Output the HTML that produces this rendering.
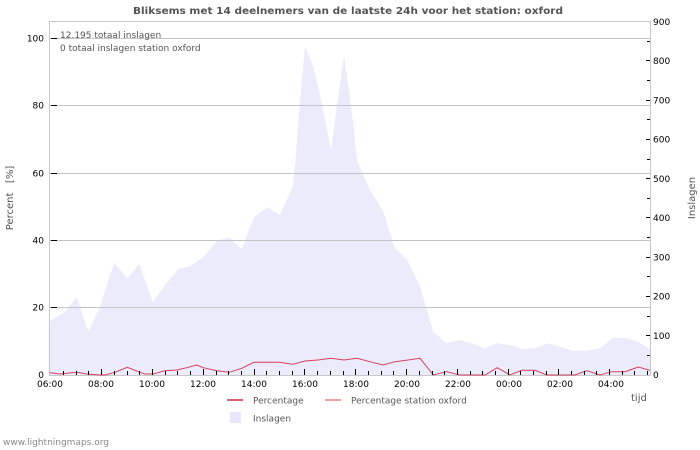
<!DOCTYPE html>
<html><head><meta charset="utf-8"><style>
html,body{margin:0;padding:0;background:#fff;}
svg{display:block;}
text{font-family:"DejaVu Sans","Liberation Sans",sans-serif;}
</style></head><body>
<svg width="700" height="450" viewBox="0 0 700 450" xmlns="http://www.w3.org/2000/svg">
<rect x="0" y="0" width="700" height="450" fill="#fff"/>
<!-- area -->
<polygon fill="#ebebfc" points="50,321 63.3,313.3 76.7,297.3 88.3,331.7 100,306.7 114,262.7 127.3,278.3 139.3,264 152.7,302.3 165,285 178.3,269.3 190,266 203.3,257.3 216.7,240.7 229.3,237.3 241.7,249.3 254,217.3 267.3,207.3 280,215 292.7,186.7 295,166.7 300,100 305,46.7 313.3,66.7 321.7,103.3 331,150 336.7,106.7 344,56 350,96.7 357.3,161.7 370,190 383.3,211.7 395,248.3 407.3,260 420,286.7 433.3,331.7 446.7,343.3 460,340 471.7,343.3 485,348.3 496.7,343.3 510,345 521.7,349 535,348.3 548.3,343.3 560,346.7 573.3,350.7 586.7,350.7 600,348.3 613.3,337.7 626.7,338.3 638.3,341.7 650,349.3 650,375 50,375"/>
<!-- grid -->
<g stroke="#c4c4c8" stroke-width="1">
<line x1="50" y1="38.5" x2="650" y2="38.5"/>
<line x1="50" y1="105.5" x2="650" y2="105.5"/>
<line x1="50" y1="173.5" x2="650" y2="173.5"/>
<line x1="50" y1="240.5" x2="650" y2="240.5"/>
<line x1="50" y1="307.5" x2="650" y2="307.5"/>
</g>
<!-- border -->
<rect x="49.5" y="21.5" width="601" height="354" fill="none" stroke="#c8c8c8" stroke-width="1"/>
<!-- percentage line -->
<polyline fill="none" stroke="#d9405a" stroke-width="1" points="50,372.7 60,374 66.7,373.3 76.7,372.3 86.7,374 100,375 105,375 115,372.3 127.3,367.3 140,372.3 145,374 153.3,374 165,370.7 176.7,370 186.7,367.7 196.7,365 203.3,367.7 216.7,370.7 229.3,372.3 241.7,368.3 254,362.3 267.3,362.3 279.3,362.3 292.7,364.3 305,361 318,360 331,358.3 344,360 357,358.3 370,361.7 383,365 395,361.7 408,360 420,358.3 433.3,375 446.7,371.7 456.7,374.3 460,375 485,375 497.3,367.7 510,375 521.7,370.3 535,370.3 546.7,375 575,375 586.7,370.7 600,375 611.7,371.7 625,371.7 638.3,367 650,370.3"/>
<!-- bottom ticks -->
<g stroke="#000" stroke-width="1" id="bt"></g>
<!-- left ticks -->
<g stroke="#000" stroke-width="1">
<line x1="51" y1="38.5" x2="57" y2="38.5"/>
<line x1="51" y1="105.5" x2="57" y2="105.5"/>
<line x1="51" y1="173.5" x2="57" y2="173.5"/>
<line x1="51" y1="240.5" x2="57" y2="240.5"/>
<line x1="51" y1="307.5" x2="57" y2="307.5"/>
</g>
<!-- right ticks -->
<g stroke="#000" stroke-width="1">
<line x1="646" y1="60.5" x2="650" y2="60.5"/>
<line x1="646" y1="100.5" x2="650" y2="100.5"/>
<line x1="646" y1="139.5" x2="650" y2="139.5"/>
<line x1="646" y1="178.5" x2="650" y2="178.5"/>
<line x1="646" y1="217.5" x2="650" y2="217.5"/>
<line x1="646" y1="257.5" x2="650" y2="257.5"/>
<line x1="646" y1="296.5" x2="650" y2="296.5"/>
<line x1="646" y1="335.5" x2="650" y2="335.5"/>
<line x1="647" y1="41.5" x2="650" y2="41.5"/>
<line x1="647" y1="80.5" x2="650" y2="80.5"/>
<line x1="647" y1="119.5" x2="650" y2="119.5"/>
<line x1="647" y1="159.5" x2="650" y2="159.5"/>
<line x1="647" y1="198.5" x2="650" y2="198.5"/>
<line x1="647" y1="237.5" x2="650" y2="237.5"/>
<line x1="647" y1="276.5" x2="650" y2="276.5"/>
<line x1="647" y1="316.5" x2="650" y2="316.5"/>
<line x1="647" y1="355.5" x2="650" y2="355.5"/>
</g>
<g stroke="#000" stroke-width="1">
<line x1="63.5" y1="371" x2="63.5" y2="375"/>
<line x1="76.5" y1="371" x2="76.5" y2="375"/>
<line x1="88.5" y1="371" x2="88.5" y2="375"/>
<line x1="101.5" y1="369" x2="101.5" y2="375"/>
<line x1="114.5" y1="371" x2="114.5" y2="375"/>
<line x1="127.5" y1="371" x2="127.5" y2="375"/>
<line x1="139.5" y1="371" x2="139.5" y2="375"/>
<line x1="152.5" y1="369" x2="152.5" y2="375"/>
<line x1="165.5" y1="371" x2="165.5" y2="375"/>
<line x1="177.5" y1="371" x2="177.5" y2="375"/>
<line x1="190.5" y1="371" x2="190.5" y2="375"/>
<line x1="203.5" y1="369" x2="203.5" y2="375"/>
<line x1="216.5" y1="371" x2="216.5" y2="375"/>
<line x1="228.5" y1="371" x2="228.5" y2="375"/>
<line x1="241.5" y1="371" x2="241.5" y2="375"/>
<line x1="254.5" y1="369" x2="254.5" y2="375"/>
<line x1="266.5" y1="371" x2="266.5" y2="375"/>
<line x1="279.5" y1="371" x2="279.5" y2="375"/>
<line x1="292.5" y1="371" x2="292.5" y2="375"/>
<line x1="304.5" y1="369" x2="304.5" y2="375"/>
<line x1="317.5" y1="371" x2="317.5" y2="375"/>
<line x1="330.5" y1="371" x2="330.5" y2="375"/>
<line x1="343.5" y1="371" x2="343.5" y2="375"/>
<line x1="355.5" y1="369" x2="355.5" y2="375"/>
<line x1="368.5" y1="371" x2="368.5" y2="375"/>
<line x1="381.5" y1="371" x2="381.5" y2="375"/>
<line x1="393.5" y1="371" x2="393.5" y2="375"/>
<line x1="406.5" y1="369" x2="406.5" y2="375"/>
<line x1="419.5" y1="371" x2="419.5" y2="375"/>
<line x1="432.5" y1="371" x2="432.5" y2="375"/>
<line x1="444.5" y1="371" x2="444.5" y2="375"/>
<line x1="457.5" y1="369" x2="457.5" y2="375"/>
<line x1="470.5" y1="371" x2="470.5" y2="375"/>
<line x1="482.5" y1="371" x2="482.5" y2="375"/>
<line x1="495.5" y1="371" x2="495.5" y2="375"/>
<line x1="508.5" y1="369" x2="508.5" y2="375"/>
<line x1="520.5" y1="371" x2="520.5" y2="375"/>
<line x1="533.5" y1="371" x2="533.5" y2="375"/>
<line x1="546.5" y1="371" x2="546.5" y2="375"/>
<line x1="558.5" y1="369" x2="558.5" y2="375"/>
<line x1="571.5" y1="371" x2="571.5" y2="375"/>
<line x1="584.5" y1="371" x2="584.5" y2="375"/>
<line x1="596.5" y1="371" x2="596.5" y2="375"/>
<line x1="609.5" y1="369" x2="609.5" y2="375"/>
<line x1="622.5" y1="371" x2="622.5" y2="375"/>
<line x1="634.5" y1="371" x2="634.5" y2="375"/>
<line x1="647.5" y1="371" x2="647.5" y2="375"/>
</g>
<!-- title -->
<text x="348" y="14" text-anchor="middle" font-size="10" font-weight="bold" fill="#555" textLength="430" lengthAdjust="spacingAndGlyphs">Bliksems met 14 deelnemers van de laatste 24h voor het station: oxford</text>
<!-- annotations -->
<text x="60" y="38" font-size="9" fill="#555">12.195 totaal inslagen</text>
<text x="60" y="51" font-size="9" fill="#555">0 totaal inslagen station oxford</text>
<!-- left labels -->
<g font-size="9" fill="#000" text-anchor="end">
<text x="44" y="41.5">100</text>
<text x="44" y="108.5">80</text>
<text x="44" y="176.5">60</text>
<text x="44" y="243.5">40</text>
<text x="44" y="310.5">20</text>
<text x="44" y="378">0</text>
</g>
<!-- right labels -->
<g font-size="9" fill="#000">
<text x="653" y="25">900</text>
<text x="653" y="64">800</text>
<text x="653" y="103.5">700</text>
<text x="653" y="142.5">600</text>
<text x="653" y="182">500</text>
<text x="653" y="221">400</text>
<text x="653" y="260.5">300</text>
<text x="653" y="299.5">200</text>
<text x="653" y="339">100</text>
<text x="653" y="378">0</text>
</g>
<!-- bottom labels -->
<g font-size="9" fill="#000" text-anchor="middle">
<text x="50" y="387">06:00</text>
<text x="101" y="387">08:00</text>
<text x="152" y="387">10:00</text>
<text x="203" y="387">12:00</text>
<text x="254" y="387">14:00</text>
<text x="305" y="387">16:00</text>
<text x="356" y="387">18:00</text>
<text x="407" y="387">20:00</text>
<text x="458" y="387">22:00</text>
<text x="509" y="387">00:00</text>
<text x="560" y="387">02:00</text>
<text x="611" y="387">04:00</text>
</g>
<!-- axis titles -->
<text transform="translate(13,198) rotate(-90)" text-anchor="middle" font-size="10" fill="#555" xml:space="preserve">Percent   [%]</text>
<text transform="translate(695,198) rotate(-90)" text-anchor="middle" font-size="10" fill="#555">Inslagen</text>
<text x="631" y="401" font-size="10" fill="#555">tijd</text>
<!-- legend -->
<line x1="227" y1="400" x2="243" y2="400" stroke="#e06070" stroke-width="2"/>
<text x="253" y="403.5" font-size="9" fill="#555">Percentage</text>
<line x1="325" y1="400" x2="341" y2="400" stroke="#f4a0a0" stroke-width="2"/>
<text x="351" y="403.5" font-size="9" fill="#555">Percentage station oxford</text>
<rect x="230" y="412" width="11" height="11" fill="#e8e8fc"/>
<text x="253" y="421.5" font-size="9" fill="#555">Inslagen</text>
<!-- footer -->
<text x="3" y="445" font-size="9" fill="#888">www.lightningmaps.org</text>
</svg>
</body></html>
